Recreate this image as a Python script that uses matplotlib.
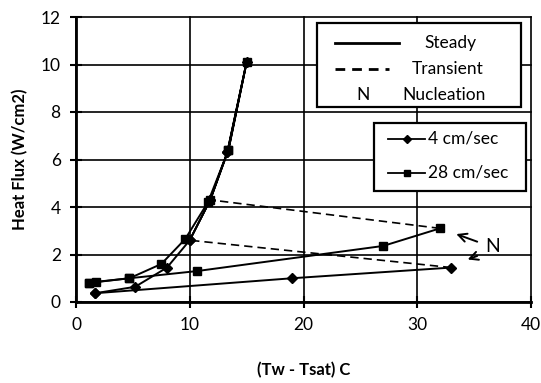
import matplotlib
matplotlib.use("Agg")
import matplotlib.pyplot as plt
from matplotlib.patches import Rectangle

plt.rcParams['font.family'] = ['Lato', 'DejaVu Sans']

# 4 cm/sec: steady path (heating at low flux, then boiling curve up and back down)
s4_low_x = [1.7, 19.0, 33.0]
s4_low_y = [0.37, 1.0, 1.45]
s4_boil_x = [10.0, 11.8, 13.3, 15.0, 13.3, 11.8, 10.0, 8.0, 5.2, 1.7]
s4_boil_y = [2.6, 4.3, 6.3, 10.1, 6.3, 4.3, 2.6, 1.45, 0.64, 0.37]
t4_x = [33.0, 10.0]
t4_y = [1.45, 2.6]

# 28 cm/sec
s28_low_x = [1.1, 1.8, 4.7, 10.6, 27.0, 32.0]
s28_low_y = [0.8, 0.85, 1.0, 1.3, 2.36, 3.1]
s28_boil_x = [11.8, 13.4, 15.0, 13.4, 11.6, 9.6, 7.5, 4.7, 1.1]
s28_boil_y = [4.3, 6.4, 10.1, 6.4, 4.2, 2.65, 1.6, 1.0, 0.8]
t28_x = [32.0, 11.8]
t28_y = [3.1, 4.3]

x_ticks = [0, 10, 20, 30, 40]
y_ticks = [0, 2, 4, 6, 8, 10, 12]

W, H = 541, 383
fig = plt.figure(figsize=(W / 100, H / 100), dpi=100)
AX_L, AX_R, AX_B, AX_T = 76, 531, 302, 17
ax = fig.add_axes([AX_L / W, 1 - AX_B / H, (AX_R - AX_L) / W, (AX_B - AX_T) / H])

def P(px, py):
    """pixel position -> axes fraction"""
    return ((px - AX_L) / (AX_R - AX_L), (AX_B - py) / (AX_B - AX_T))

lw = 1.4
ax.plot(s4_low_x, s4_low_y, color='black', lw=lw, marker='D', ms=5, zorder=3)
ax.plot(s4_boil_x, s4_boil_y, color='black', lw=lw, marker='D', ms=5, zorder=3)
ax.plot(t4_x, t4_y, color='black', lw=1.2, ls=(0, (5, 3)), zorder=3)
ax.plot(s28_low_x, s28_low_y, color='black', lw=lw, marker='s', ms=5.5, zorder=4)
ax.plot(s28_boil_x, s28_boil_y, color='black', lw=lw, marker='s', ms=5.5, zorder=4)
ax.plot(t28_x, t28_y, color='black', lw=1.2, ls=(0, (5, 3)), zorder=3)

ax.set_xlim(0, 40)
ax.set_ylim(0, 12)
ax.set_xticks(x_ticks)
ax.set_yticks(y_ticks)
ax.grid(True, color='black', lw=1.2)
ax.set_axisbelow(True)
for gl in ax.get_xgridlines() + ax.get_ygridlines():
    gl.set_clip_on(False)
for s in ax.spines.values():
    s.set_visible(False)
ax.spines['left'].set_visible(True)
ax.spines['bottom'].set_visible(True)
ax.spines['left'].set_linewidth(2)
ax.spines['bottom'].set_linewidth(2)
ax.tick_params(direction='inout', length=8, width=1.5, labelsize=12.5, pad=7)

ax.set_xlabel('(Tw - Tsat) C', fontsize=12, fontweight='bold', labelpad=21)
ax.set_ylabel('Heat Flux (W/cm2)', fontsize=12, fontweight='bold', labelpad=9)

# Nucleation annotation
ax.text(36.6, 2.35, 'N', fontsize=14, ha='center', va='center')
ax.annotate('', xy=(33.2, 2.9), xytext=(35.5, 2.5),
            arrowprops=dict(arrowstyle='->', lw=1.4, color='black', mutation_scale=15))
ax.annotate('', xy=(34.2, 1.75), xytext=(35.5, 1.98),
            arrowprops=dict(arrowstyle='->', lw=1.4, color='black', mutation_scale=15))

T = ax.transAxes
# Legend box 1
x0, y1 = P(317, 107)
x1, y0 = P(521, 23)
ax.add_patch(Rectangle((x0, y1), x1 - x0, y0 - y1, transform=T, facecolor='white',
                       edgecolor='black', lw=1.6, zorder=6, clip_on=False))
a, b = P(335, 43); c, _ = P(399, 43)
ax.plot([a, c], [b, b], transform=T, color='black', lw=2, zorder=7)
a, b = P(335, 69); c, _ = P(389, 69)
ax.plot([a, c], [b, b], transform=T, color='black', lw=2, ls=(0, (3.5, 2.5)), zorder=7)
for txt, px, py in [('Steady', 450, 43), ('Transient', 448, 69), ('Nucleation', 444, 95)]:
    tx, ty = P(px, py)
    ax.text(tx, ty, txt, transform=T, fontsize=12.5, ha='center', va='center', zorder=7)
tx, ty = P(363, 95)
ax.text(tx, ty, 'N', transform=T, fontsize=12.5, ha='center', va='center', zorder=7)

# Legend box 2
x0, y1 = P(374, 191)
x1, y0 = P(526, 123)
ax.add_patch(Rectangle((x0, y1), x1 - x0, y0 - y1, transform=T, facecolor='white',
                       edgecolor='black', lw=1.6, zorder=6, clip_on=False))
for mk, txt, py in [('D', '4 cm/sec', 139), ('s', '28 cm/sec', 173)]:
    a, b = P(388, py); c, _ = P(425, py)
    ax.plot([a, c], [b, b], transform=T, color='black', lw=1.3, zorder=7)
    ax.plot([(a + c) / 2], [b], transform=T, color='black', marker=mk, ms=4.5, zorder=7)
    tx, ty = P(428, py)
    ax.text(tx, ty, txt, transform=T, fontsize=12.5, ha='left', va='center', zorder=7)

fig.savefig('out.png', dpi=100)
